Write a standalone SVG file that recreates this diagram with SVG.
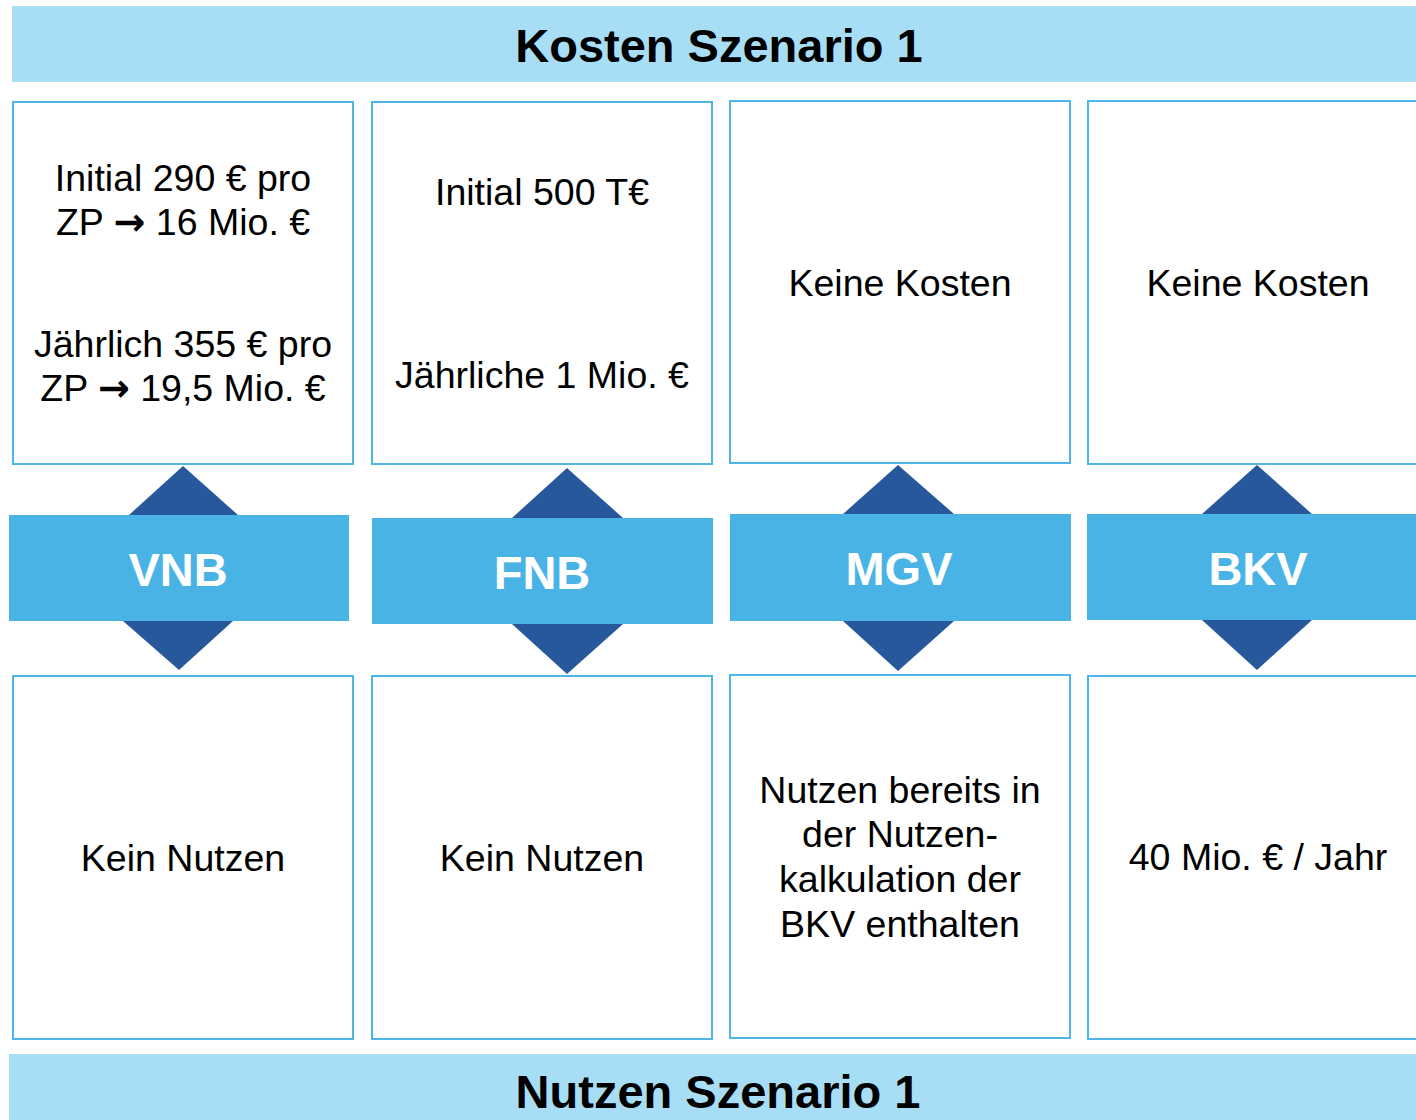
<svg xmlns="http://www.w3.org/2000/svg" width="1416" height="1120" viewBox="0 0 1416 1120">
<style>
.hdr{fill:#A8DEF5}
.box{fill:#FFFFFF;stroke:#4DB5E8;stroke-width:2}
.band{fill:#4AB3E6}
.dia{fill:#27589C}
.t{font-family:"Liberation Sans",Arial,sans-serif;font-size:37.5px;fill:#000;text-anchor:middle}
.ar{font-family:"DejaVu Sans",sans-serif;font-weight:bold;font-size:38px}
.h{font-family:"Liberation Sans",Arial,sans-serif;font-size:47px;font-weight:bold;fill:#000;text-anchor:middle}
.b{font-family:"Liberation Sans",Arial,sans-serif;font-size:47px;font-weight:bold;fill:#FFF;text-anchor:middle}
</style>
<rect width="1416" height="1120" fill="#FFFFFF"/>
<g id="header-kosten">
<rect class="hdr" x="12" y="6" width="1404" height="76"/>
<text class="h" x="719" y="62">Kosten Szenario 1</text>
</g>
<g id="header-nutzen">
<rect class="hdr" x="9" y="1054" width="1407" height="66"/>
<text class="h" x="718" y="1108">Nutzen Szenario 1</text>
</g>
<g id="connectors">
<polygon class="dia" points="183,466 238,515 233,621 179,670 123,621 129,515"/>
<polygon class="dia" points="567,468 623,518 623,624 567,674 512,624 512,518"/>
<polygon class="dia" points="898,465 954,514 954,621 898,671 843,621 843,514"/>
<polygon class="dia" points="1257,465 1312,514 1312,620 1257,670 1202,620 1202,514"/>
</g>
<g id="vnb">
<rect class="box" x="13" y="102" width="340" height="362"/>
<text class="t" x="183" y="191">Initial 290 € pro</text>
<text class="t" x="183" y="235">ZP <tspan class="ar">→</tspan> 16 Mio. €</text>
<text class="t" x="183" y="357">Jährlich 355 € pro</text>
<text class="t" x="183" y="401">ZP <tspan class="ar">→</tspan> 19,5 Mio. €</text>
<rect class="band" x="9" y="515" width="340" height="106"/>
<text class="b" x="178" y="586">VNB</text>
<rect class="box" x="13" y="676" width="340" height="363"/>
<text class="t" x="183" y="871">Kein Nutzen</text>
</g>
<g id="fnb">
<rect class="box" x="372" y="102" width="340" height="362"/>
<text class="t" x="542" y="205">Initial 500 T€</text>
<text class="t" x="542" y="388">Jährliche 1 Mio. €</text>
<rect class="band" x="372" y="518" width="341" height="106"/>
<text class="b" x="542" y="589">FNB</text>
<rect class="box" x="372" y="676" width="340" height="363"/>
<text class="t" x="542" y="871">Kein Nutzen</text>
</g>
<g id="mgv">
<rect class="box" x="730" y="101" width="340" height="362"/>
<text class="t" x="900" y="296">Keine Kosten</text>
<rect class="band" x="730" y="514" width="341" height="107"/>
<text class="b" x="899" y="585">MGV</text>
<rect class="box" x="730" y="675" width="340" height="363"/>
<text class="t" x="900" y="803">Nutzen bereits in</text>
<text class="t" x="900" y="847">der Nutzen-</text>
<text class="t" x="900" y="892">kalkulation der</text>
<text class="t" x="900" y="937">BKV enthalten</text>
</g>
<g id="bkv">
<rect class="box" x="1088" y="101" width="340" height="363"/>
<text class="t" x="1258" y="296">Keine Kosten</text>
<rect class="band" x="1087" y="514" width="329" height="106"/>
<text class="b" x="1258" y="585">BKV</text>
<rect class="box" x="1088" y="676" width="340" height="363"/>
<text class="t" x="1258" y="870">40 Mio. € / Jahr</text>
</g>
</svg>
